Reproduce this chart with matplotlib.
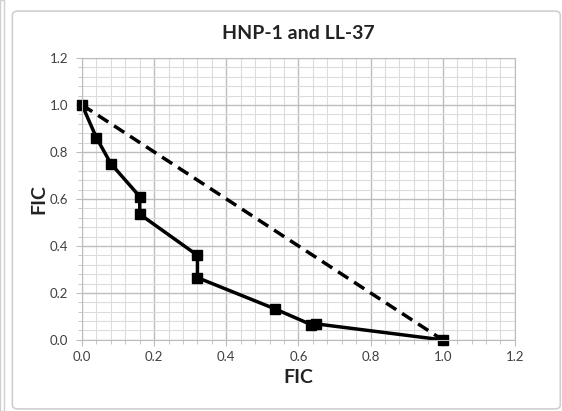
import numpy as np
import matplotlib.pyplot as plt
from matplotlib.patches import FancyBboxPatch

fic_x = [0.0, 0.04, 0.08, 0.16, 0.16, 0.32, 0.32, 0.535, 0.635, 0.65, 1.0]
fic_y = [1.0, 0.86, 0.75, 0.61, 0.535, 0.36, 0.265, 0.132, 0.065, 0.068, 0.0]
add_x = [0.0, 1.0]
add_y = [1.0, 0.0]
ticks = [0.0, 0.2, 0.4, 0.6, 0.8, 1.0, 1.2]

plt.rcParams['font.family'] = ['Lato', 'DejaVu Sans']

fig = plt.figure(figsize=(5.62, 4.11), dpi=100)
# chart border
fig.patches.append(FancyBboxPatch((0.022, 0.005), 0.975, 0.968, boxstyle="round,pad=0,rounding_size=0.01",
                                  transform=fig.transFigure, fill=False, edgecolor='#d0d0d0', linewidth=1.2))
fig.patches.append(plt.Rectangle((0.0, 0.0), 0.008, 1.0, transform=fig.transFigure,
                                 fill=False, edgecolor='#d0d0d0', linewidth=1.0))

ax = fig.add_axes([0.146, 0.173, 0.77, 0.686])
ax.set_xlim(0, 1.2)
ax.set_ylim(0, 1.2)
ax.set_xticks(ticks)
ax.set_yticks(ticks)
ax.set_xticklabels(['%.1f' % t for t in ticks])
ax.set_yticklabels(['%.1f' % t for t in ticks])
ax.set_xticks(np.arange(0, 1.21, 0.04), minor=True)
ax.set_yticks(np.arange(0, 1.21, 0.04), minor=True)
ax.grid(which='major', color='#bdbdbd', linewidth=1.0)
ax.grid(which='minor', color='#dcdcdc', linewidth=0.8)
ax.set_axisbelow(True)
for s in ax.spines.values():
    s.set_color('#bdbdbd')
ax.tick_params(which='both', colors='#bdbdbd', labelcolor='#404040', labelsize=9.5, length=4, pad=6)
ax.tick_params(axis='x', which='major', pad=4)
ax.tick_params(which='minor', length=3)

ax.plot(add_x, add_y, color='black', linewidth=2.5, linestyle=(0, (3.5, 2)))
ax.plot(fic_x, fic_y, color='black', linewidth=2.5, marker='s', markersize=6.5, clip_on=False)

ax.set_title('HNP-1 and LL-37', fontsize=14, fontweight='bold', color='#222222', pad=14)
ax.set_xlabel('FIC', fontsize=14, fontweight='bold', color='#222222', va='center')
ax.set_ylabel('FIC', fontsize=14, fontweight='bold', color='#222222', va='center')
ax.xaxis.set_label_coords(0.5, -0.135)
ax.yaxis.set_label_coords(-0.1, 0.5)

fig.savefig('out.png', dpi=100)
